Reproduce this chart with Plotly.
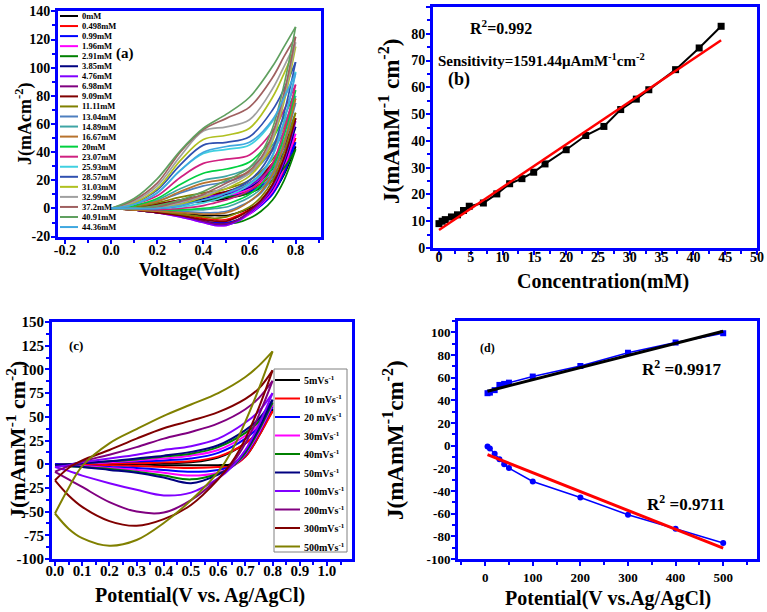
import plotly.graph_objects as go

W, H = 767, 612
FONT = 'Liberation Serif'

# ---------------- Panel (a): CV at different concentrations ----------------
conc_labels = ['0mM', '0.498mM', '0.99mM', '1.96mM', '2.91mM', '3.85mM', '4.76mM', '6.98mM',
               '9.09mM', '11.11mM', '13.04mM', '14.89mM', '16.67mM', '20mM', '23.07mM',
               '25.93mM', '28.57mM', '31.03mM', '32.99mM', '37.2mM', '40.91mM', '44.36mM']
conc_colors = ['#000000', '#FF0000', '#0000FF', '#FF00FF', '#008000', '#000080', '#8000FF',
               '#800080', '#800000', '#808000', '#4E7FBF', '#3FA5A5', '#B8732E', '#00D040',
               '#D02080', '#40D0E0', '#3050B0', '#B0C020', '#A0A0A0', '#A06060', '#60A060',
               '#40A8E0']
a_v_fwd = [0.0, 0.1, 0.2, 0.3, 0.4, 0.5, 0.6, 0.7, 0.75, 0.8]
a_v_rev = [0.8, 0.75, 0.7, 0.65, 0.6, 0.55, 0.5, 0.45, 0.4, 0.3, 0.2, 0.1, 0.0]
a_fwd = [
    [0, 0.5, 2, 4, 5, 7, 11, 20, 29, 44],
    [0, 0.5, 2, 4, 6, 8, 13, 24, 34, 50],
    [0, 0.5, 2, 4, 6, 8, 12, 22, 32, 47],
    [0, 1, 2, 4, 6, 9, 14, 26, 37, 53],
    [0, 0.5, 2, 4, 6, 8, 11, 20, 29, 42],
    [0, 1, 3, 5, 7, 10, 15, 28, 40, 58],
    [0, 1, 3, 5, 8, 11, 16, 30, 43, 62],
    [0, 1, 3, 6, 9, 12, 17, 31, 45, 64],
    [0, 1, 3, 6, 9, 12, 18, 32, 45, 64],
    [0, 1, 4, 8, 11, 14, 20, 35, 48, 68],
    [0, 2, 5, 11, 16, 19, 25, 41, 55, 75],
    [0, 2, 6, 14, 20, 23, 29, 45, 60, 80],
    [0, 2, 5, 12, 18, 21, 26, 43, 58, 78],
    [0, 2, 7, 17, 25, 28, 33, 50, 65, 84],
    [0, 3, 9, 22, 32, 35, 38, 55, 70, 88],
    [0, 3, 11, 27, 39, 42, 45, 62, 78, 97],
    [0, 4, 13, 31, 45, 47, 51, 70, 85, 104],
    [0, 4, 14, 34, 49, 52, 57, 79, 96, 115],
    [0, 5, 16, 37, 55, 58, 63, 85, 101, 118],
    [0, 6, 18, 40, 56, 64, 72, 93, 108, 122],
    [0, 7, 21, 41, 57, 67, 79, 101, 115, 129],
    [0, 3, 11, 27, 40, 44, 47, 63, 79, 96],
]
a_rev = [
    [44, 24, 11, 4, 0, -3, -5, -5, -5, -3, -2, -1, 0],
    [50, 27, 12, 4, -1, -5, -8, -8, -7, -4, -2, -1, 0],
    [47, 25, 10, 2, -4, -8, -10, -10, -9, -5, -3, -1, 0],
    [53, 29, 12, 3, -4, -9, -12, -12, -10, -6, -3, -1, 0],
    [42, 20, 6, -2, -7, -10, -11, -11, -9, -5, -3, -1, 0],
    [58, 32, 14, 4, -3, -8, -11, -11, -9, -5, -3, -1, 0],
    [62, 34, 15, 4, -3, -9, -12, -12, -10, -6, -3, -1, 0],
    [64, 36, 17, 5, -2, -8, -11, -11, -9, -5, -3, -1, 0],
    [64, 36, 17, 6, -1, -6, -9, -9, -8, -5, -3, -1, 0],
    [68, 40, 20, 8, 1, -3, -6, -7, -6, -4, -2, -1, 0],
    [75, 45, 23, 11, 5, 1, -2, -3, -3, -2, -1, 0, 0],
    [80, 48, 26, 14, 8, 4, 1, 0, -1, -1, -1, 0, 0],
    [78, 46, 24, 12, 5, 0, -3, -4, -4, -3, -2, -1, 0],
    [84, 52, 29, 17, 10, 6, 3, 1, 0, -1, -1, 0, 0],
    [88, 55, 32, 20, 13, 9, 6, 4, 2, 0, -1, 0, 0],
    [97, 62, 37, 24, 17, 12, 9, 6, 4, 1, 0, 0, 0],
    [104, 68, 42, 28, 20, 15, 11, 8, 6, 2, 0, 0, 0],
    [115, 76, 48, 32, 23, 18, 14, 11, 8, 3, 1, 0, 0],
    [118, 79, 50, 34, 25, 20, 16, 12, 9, 4, 1, 0, 0],
    [122, 82, 53, 36, 27, 22, 18, 14, 10, 5, 1, 0, 0],
    [129, 88, 57, 39, 29, 24, 20, 16, 12, 6, 2, 0, 0],
    [96, 62, 38, 25, 18, 14, 11, 8, 6, 2, 0, 0, 0],
]
a_xticks = [-0.2, 0.0, 0.2, 0.4, 0.6, 0.8]
a_xticktext = ['-0.2', '0.0', '0.2', '0.4', '0.6', '0.8']
a_yticks = [-20, 0, 20, 40, 60, 80, 100, 120, 140]
a_yticktext = ['-20', '0', '20', '40', '60', '80', '100', '120', '140']

# ---------------- Panel (b): calibration ----------------
b_conc = [0, 0.498, 0.99, 1.96, 2.91, 3.85, 4.76, 6.98, 9.09, 11.11, 13.04, 14.89, 16.67,
          20, 23.07, 25.93, 28.57, 31.03, 32.99, 37.2, 40.91, 44.36]
b_j = [9.1, 10, 10.6, 11.6, 12.4, 14, 15.6, 16.8, 20.2, 24, 25.9, 28.3, 31.4, 36.7, 42,
       45.4, 51.7, 55.6, 59.1, 66.6, 74.7, 82.8]
b_fit_x = [0, 44.36]
b_fit_y = [6.7, 77.6]
b_xticks = [0, 5, 10, 15, 20, 25, 30, 35, 40, 45, 50]
b_xticktext = [str(v) for v in b_xticks]
b_yticks = [0, 10, 20, 30, 40, 50, 60, 70, 80, 90]
b_yticktext = [str(v) for v in b_yticks]

# ---------------- Panel (c): scan rates ----------------
rate_labels = ['5mVs<sup>-1</sup>', '10 mVs<sup>-1</sup>', '20 mVs<sup>-1</sup>',
               '30mVs<sup>-1</sup>', '40mVs<sup>-1</sup>', '50mVs<sup>-1</sup>',
               '100mVs<sup>-1</sup>', '200mVs<sup>-1</sup>', '300mVs<sup>-1</sup>',
               '500mVs<sup>-1</sup>']
rate_colors = ['#000000', '#FF0000', '#0000FF', '#FF00FF', '#008000', '#000080', '#8000FF',
               '#800080', '#800000', '#808000']
c_v_up = [0.0, 0.05, 0.1, 0.2, 0.3, 0.4, 0.5, 0.6, 0.7, 0.75, 0.8]
c_v_down = [0.8, 0.75, 0.7, 0.65, 0.6, 0.5, 0.4, 0.3, 0.2, 0.1, 0.05, 0.0]
c_up = [
    [0, 0, 0, 0, 1, 1, 2, 7, 22, 35, 58],
    [0, 0, 0, 1, 1, 2, 3, 8, 22, 35, 56],
    [0, 0, 1, 2, 3, 4, 6, 12, 27, 40, 61],
    [-1, 0, 1, 2, 4, 6, 9, 15, 30, 42, 63],
    [-1, 0, 1, 3, 5, 8, 11, 18, 33, 45, 65],
    [-1, 0, 1, 3, 6, 9, 13, 20, 36, 48, 68],
    [-3, -1, 2, 6, 10, 15, 19, 27, 44, 56, 75],
    [-8, -2, 3, 10, 18, 27, 34, 43, 58, 70, 88],
    [-17, -4, 4, 15, 27, 38, 46, 55, 69, 80, 99],
    [-52, -25, -2, 22, 37, 51, 63, 75, 92, 104, 119],
]
c_down = [
    [58, 30, 8, 0, -1, -1, -1, 0, 0, 0, 0, 0],
    [56, 30, 8, -2, -3, -4, -3, -2, -1, -1, 0, 0],
    [61, 33, 10, -2, -6, -8, -6, -4, -3, -2, -1, 0],
    [63, 34, 11, -3, -9, -12, -9, -6, -4, -2, -1, -1],
    [65, 36, 12, -3, -10, -16, -12, -8, -5, -3, -2, -1],
    [68, 38, 14, -2, -11, -20, -14, -9, -6, -3, -2, -1],
    [75, 42, 15, -3, -15, -30, -33, -27, -20, -12, -7, -3],
    [88, 52, 22, 0, -15, -38, -51, -50, -40, -24, -16, -8],
    [99, 60, 27, 2, -16, -43, -58, -65, -60, -45, -33, -17],
    [119, 80, 45, 14, -8, -38, -62, -80, -86, -78, -68, -52],
]
c_xticks = [0.0, 0.1, 0.2, 0.3, 0.4, 0.5, 0.6, 0.7, 0.8, 0.9, 1.0]
c_xticktext = ['0.0', '0.1', '0.2', '0.3', '0.4', '0.5', '0.6', '0.7', '0.8', '0.9', '1.0']
c_yticks = [-100, -75, -50, -25, 0, 25, 50, 75, 100, 125, 150]
c_yticktext = [str(v) for v in c_yticks]

# ---------------- Panel (d): peak current vs scan rate ----------------
d_rate = [5, 10, 20, 30, 40, 50, 100, 200, 300, 400, 500]
d_anodic = [46.3, 46.8, 49, 53.6, 54.5, 55.6, 61, 70.3, 82, 91, 99.2]
d_cathodic = [-0.8, -2.5, -7.2, -12, -16.3, -19.8, -31.6, -45.7, -60.9, -73.3, -85.9]
d_fit_x = [5, 500]
d_fit_anodic = [48, 101]
d_fit_cathodic = [-8, -90.5]
d_xticks = [0, 100, 200, 300, 400, 500]
d_xticktext = [str(v) for v in d_xticks]
d_yticks = [-100, -80, -60, -40, -20, 0, 20, 40, 60, 80, 100]
d_yticktext = [str(v) for v in d_yticks]

fig = go.Figure()

for i in range(len(conc_labels)):
    fig.add_trace(go.Scatter(x=a_v_fwd, y=a_fwd[i], mode='lines', xaxis='x', yaxis='y',
                             line=dict(color=conc_colors[i], width=1.7, shape='spline'),
                             showlegend=False))
    fig.add_trace(go.Scatter(x=a_v_rev, y=a_rev[i], mode='lines', xaxis='x', yaxis='y',
                             line=dict(color=conc_colors[i], width=1.7, shape='spline'),
                             showlegend=False))

fig.add_trace(go.Scatter(x=b_conc, y=b_j, mode='lines+markers', xaxis='x2', yaxis='y2',
                         line=dict(color='black', width=2),
                         marker=dict(symbol='square', size=7, color='black'), showlegend=False))
fig.add_trace(go.Scatter(x=b_fit_x, y=b_fit_y, mode='lines', xaxis='x2', yaxis='y2',
                         line=dict(color='red', width=2.5), showlegend=False))

for i in range(len(rate_labels)):
    fig.add_trace(go.Scatter(x=c_v_up, y=c_up[i], mode='lines', xaxis='x3', yaxis='y3',
                             line=dict(color=rate_colors[i], width=2, shape='spline'),
                             showlegend=False))
    fig.add_trace(go.Scatter(x=c_v_down, y=c_down[i], mode='lines', xaxis='x3', yaxis='y3',
                             line=dict(color=rate_colors[i], width=2, shape='spline'),
                             showlegend=False))

fig.add_trace(go.Scatter(x=d_rate, y=d_anodic, mode='lines+markers', xaxis='x4', yaxis='y4',
                         line=dict(color='blue', width=1.5),
                         marker=dict(symbol='square', size=6, color='blue'), showlegend=False))
fig.add_trace(go.Scatter(x=d_fit_x, y=d_fit_anodic, mode='lines', xaxis='x4', yaxis='y4',
                         line=dict(color='black', width=3), showlegend=False))
fig.add_trace(go.Scatter(x=d_rate, y=d_cathodic, mode='lines+markers', xaxis='x4', yaxis='y4',
                         line=dict(color='blue', width=1.5),
                         marker=dict(symbol='circle', size=6, color='blue'), showlegend=False))
fig.add_trace(go.Scatter(x=d_fit_x, y=d_fit_cathodic, mode='lines', xaxis='x4', yaxis='y4',
                         line=dict(color='red', width=3), showlegend=False))


def px(x):
    return x / W


def py(y):
    return 1 - y / H


def axis(x0, x1, rng, tv, tt, minor_dtick, anchor, fsize, horizontal=True, so=-2):
    dom = [px(x0), px(x1)] if horizontal else [py(x1), py(x0)]
    return dict(domain=dom, range=rng, tickmode='array', tickvals=tv, ticktext=tt,
                automargin=False,
                showline=True, linecolor='#0000FF', linewidth=3, mirror=True,
                ticks='outside', ticklen=4, tickwidth=2, tickcolor='#0000FF',
                ticklabelstandoff=so,
                minor=dict(ticks='outside', ticklen=3, tickwidth=1.5, tickcolor='#0000FF',
                           tickmode='linear', tick0=0, dtick=minor_dtick),
                showgrid=False, zeroline=False, anchor=anchor,
                tickfont=dict(family=FONT, size=fsize, color='black', weight='bold'))


fig.update_layout(
    width=W, height=H, autosize=False, margin=dict(l=0, r=0, t=0, b=0, pad=0),
    paper_bgcolor='white', plot_bgcolor='white', showlegend=False,
    xaxis=axis(58, 321, [-0.23, 0.91], a_xticks, a_xticktext, 0.1, 'y', 14, so=-6),
    yaxis=axis(11, 237, [-20.3, 140.3], a_yticks, a_yticktext, 10, 'x', 14, False),
    xaxis2=axis(433, 757, [-0.94, 50], b_xticks, b_xticktext, 2.5, 'y2', 14, so=-10),
    yaxis2=axis(7, 248, [0, 90], b_yticks, b_yticktext, 5, 'x2', 14, False),
    xaxis3=axis(52, 352, [-0.011, 1.092], c_xticks, c_xticktext, 0.05, 'y3', 15, so=-8),
    yaxis3=axis(322, 559, [-100, 150], c_yticks, c_yticktext, 12.5, 'x3', 15, False),
    xaxis4=axis(458, 757, [-57, 571], d_xticks, d_xticktext, 50, 'y4', 13, so=0),
    yaxis4=axis(321, 559, [-100, 110], d_yticks, d_yticktext, 10, 'x4', 13, False),
)

anns = []
shapes = []


def ann(text, x, y, size, xanchor='center', angle=0):
    anns.append(dict(text=text, x=px(x), y=py(y), xref='paper', yref='paper',
                     xanchor=xanchor, yanchor='middle', showarrow=False, textangle=angle,
                     font=dict(family=FONT, size=size, color='black', weight='bold')))


# axis titles
ann('Voltage(Volt)', 189, 270, 18)
ann('J(mAcm<sup>-2</sup>)', 24, 124, 18, angle=-90)
ann('Concentration(mM)', 603, 282, 20)
ann('J(mAmM<sup>-1</sup> cm<sup>-2</sup>)', 390, 122, 23, angle=-90)
ann('Potential(V vs. Ag/AgCl)', 200, 595, 20)
ann('J(mAmM<sup>-1</sup> cm<sup>-2</sup>)', 16, 440, 22, angle=-90)
ann('Potential(V vs.Ag/AgCl)', 608, 598, 20)
ann('J(mAmM<sup>-1</sup>cm<sup>-2</sup>)', 393, 440, 23, angle=-90)

# panel labels and texts
ann('(a)', 125, 53, 15)
ann('R<sup>2</sup>=0.992', 468, 27, 16, xanchor='left')
ann('Sensitivity=1591.44µAmM<sup>-1</sup>cm<sup>-2</sup>', 436, 60, 15, xanchor='left')
ann('(b)', 459, 80, 18)
ann('(c)', 76, 345, 13)
ann('(d)', 487, 348, 12)
ann('R<sup>2</sup> =0.9917', 640, 368, 17, xanchor='left')
ann('R<sup>2</sup> =0.9711', 645, 503, 17, xanchor='left')

# manual legend for panel (a)
for i, lab in enumerate(conc_labels):
    yy = 16 + 10.05 * i
    shapes.append(dict(type='line', xref='paper', yref='paper', x0=px(60), x1=px(78),
                       y0=py(yy), y1=py(yy), line=dict(color=conc_colors[i], width=2)))
    ann(lab, 79.5, yy, 8.5, xanchor='left')

# manual legend for panel (c)
shapes.append(dict(type='rect', xref='paper', yref='paper', x0=px(274), x1=px(347),
                   y0=py(552), y1=py(369), line=dict(color='#808080', width=1),
                   fillcolor='white', layer='above'))
for i, lab in enumerate(rate_labels):
    yy = 380 + 18.5 * i
    shapes.append(dict(type='line', xref='paper', yref='paper', x0=px(275), x1=px(300),
                       y0=py(yy), y1=py(yy), line=dict(color=rate_colors[i], width=2)))
    ann(lab, 302, yy, 10, xanchor='left')

fig.update_layout(annotations=anns, shapes=shapes)
fig.write_html('out.html', config={'displayModeBar': False},
               post_script="document.body.style.margin='0px';")
